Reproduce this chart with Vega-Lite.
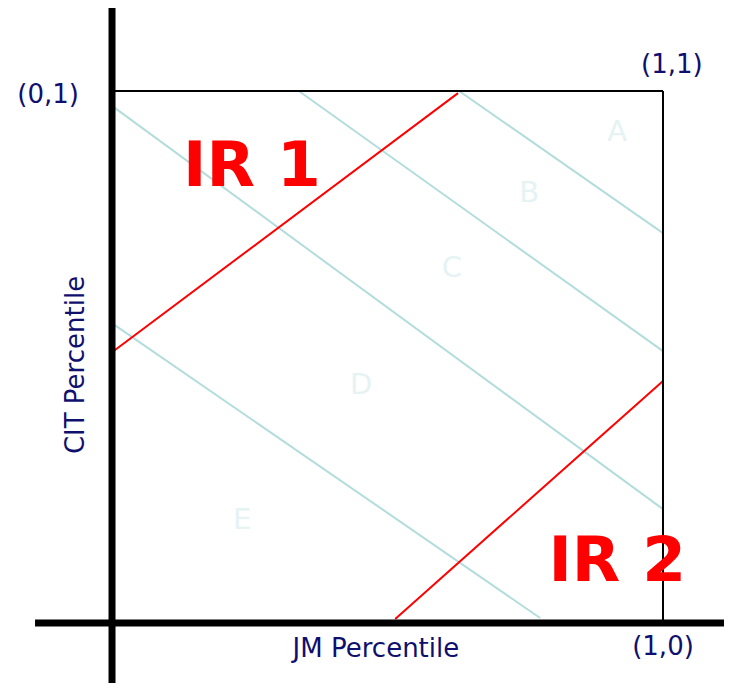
{
  "$schema": "https://vega.github.io/schema/vega-lite/v6.json",
  "width": 736,
  "height": 683,
  "padding": 0,
  "autosize": {"type": "none"},
  "background": "white",
  "config": {"view": {"stroke": null}},
  "datasets": {
    "axes": [
      {"x": -0.1397, "y": 0, "x2": 1.1107, "y2": 0},
      {"x": 0, "y": -0.1128, "x2": 0, "y2": 1.156}
    ],
    "box": [
      {"x": 0, "y": 1, "x2": 1, "y2": 1},
      {"x": 1, "y": 0, "x2": 1, "y2": 1}
    ],
    "cyan": [
      {"x": 0, "y": 0.972, "x2": 1, "y2": 0.214},
      {"x": 0.339, "y": 1, "x2": 1, "y2": 0.511},
      {"x": 0.63, "y": 1, "x2": 1, "y2": 0.733},
      {"x": 0.005, "y": 0.56, "x2": 0.777, "y2": 0.0094}
    ],
    "red": [
      {"x": 0, "y": 0.509, "x2": 0.628, "y2": 0.996},
      {"x": 0.514, "y": 0.0075, "x2": 1, "y2": 0.455}
    ],
    "letters": [
      {"x": 0.917, "y": 0.923, "t": "A"},
      {"x": 0.757, "y": 0.808, "t": "B"},
      {"x": 0.617, "y": 0.667, "t": "C"},
      {"x": 0.452, "y": 0.447, "t": "D"},
      {"x": 0.236, "y": 0.194, "t": "E"}
    ],
    "ir": [
      {"x": 0.254, "y": 0.857, "t": "IR 1"},
      {"x": 0.917, "y": 0.115, "t": "IR 2"}
    ],
    "coords": [
      {"x": -0.116, "y": 0.992, "t": "(0,1)"},
      {"x": 1.016, "y": 1.049, "t": "(1,1)"},
      {"x": 1.0, "y": -0.045, "t": "(1,0)"},
      {"x": 0.479, "y": -0.049, "t": "JM Percentile"}
    ],
    "ytitle": [
      {"x": -0.065, "y": 0.485, "t": "CIT Percentile"}
    ]
  },
  "encoding": {
    "x": {"field": "x", "type": "quantitative", "scale": {"domain": [-0.2033, 1.1325], "nice": false, "zero": false}, "axis": null},
    "y": {"field": "y", "type": "quantitative", "scale": {"domain": [-0.1128, 1.1711], "nice": false, "zero": false}, "axis": null}
  },
  "layer": [
    {
      "data": {"name": "letters"},
      "mark": {"type": "text", "font": "DejaVu Sans", "fontSize": 29, "color": "#e6f3f3", "align": "center", "baseline": "middle"},
      "encoding": {"text": {"field": "t"}}
    },
    {
      "data": {"name": "cyan"},
      "mark": {"type": "rule", "color": "#b3dcdd", "strokeWidth": 2},
      "encoding": {"x2": {"field": "x2"}, "y2": {"field": "y2"}}
    },
    {
      "data": {"name": "red"},
      "mark": {"type": "rule", "color": "#ff0000", "strokeWidth": 2},
      "encoding": {"x2": {"field": "x2"}, "y2": {"field": "y2"}}
    },
    {
      "data": {"name": "box"},
      "mark": {"type": "rule", "color": "#000000", "strokeWidth": 2},
      "encoding": {"x2": {"field": "x2"}, "y2": {"field": "y2"}}
    },
    {
      "data": {"name": "axes"},
      "mark": {"type": "rule", "color": "#000000", "strokeWidth": 7},
      "encoding": {"x2": {"field": "x2"}, "y2": {"field": "y2"}}
    },
    {
      "data": {"name": "ir"},
      "mark": {"type": "text", "font": "DejaVu Sans", "fontWeight": "bold", "fontSize": 63, "color": "#ff0000", "align": "center", "baseline": "middle"},
      "encoding": {"text": {"field": "t"}}
    },
    {
      "data": {"name": "coords"},
      "mark": {"type": "text", "font": "DejaVu Sans", "fontSize": 26, "color": "#0f0f6e", "align": "center", "baseline": "middle"},
      "encoding": {"text": {"field": "t"}}
    },
    {
      "data": {"name": "ytitle"},
      "mark": {"type": "text", "font": "DejaVu Sans", "fontSize": 26, "color": "#0f0f6e", "align": "center", "baseline": "middle", "angle": 270},
      "encoding": {"text": {"field": "t"}}
    }
  ]
}
